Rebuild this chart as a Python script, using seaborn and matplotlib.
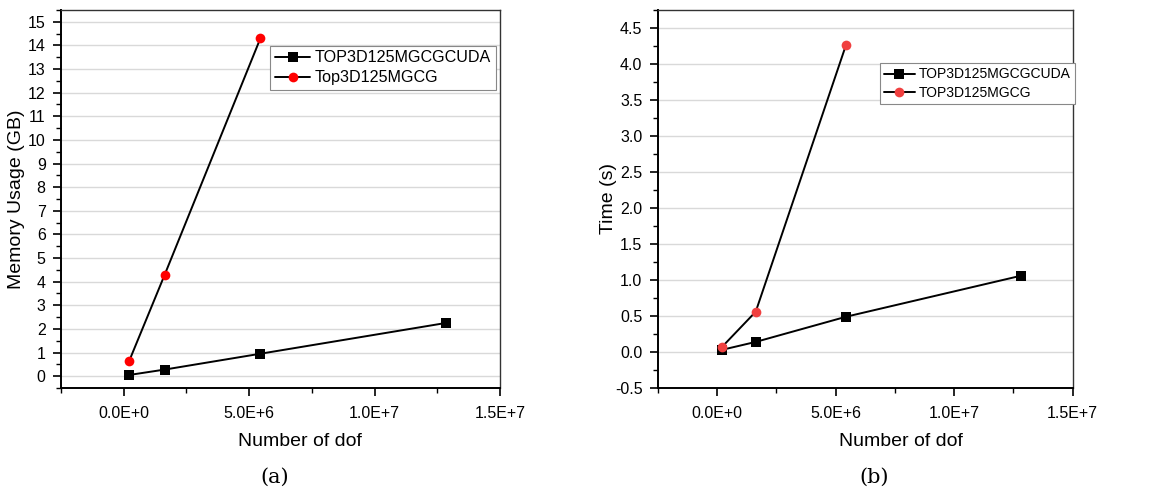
import matplotlib
matplotlib.use("Agg")
import matplotlib.pyplot as plt
import seaborn as sns
import pandas as pd
import numpy as np
from matplotlib.ticker import MultipleLocator, FuncFormatter

# dof for 64x32x32, 128x64x64, 192x96x96, 256x128x128 meshes
dof_cuda = [212355, 1635075, 5447811, 12830391]
dof_cpu = [212355, 1635075, 5447811]

mem_cuda = [0.05, 0.28, 0.95, 2.25]
mem_cpu = [0.63, 4.30, 14.30]

time_cuda = [0.03, 0.14, 0.49, 1.06]
time_cpu = [0.07, 0.56, 4.27]

sns.set_style("white")
plt.rcParams['font.family'] = ['Liberation Sans', 'DejaVu Sans']
plt.rcParams['text.color'] = 'black'
plt.rcParams['axes.labelcolor'] = 'black'
plt.rcParams['xtick.color'] = 'black'
plt.rcParams['ytick.color'] = 'black'


def sci_fmt(v, pos):
    m, e = f"{v:.1E}".split("E")
    return f"{m}E+{int(e)}"


def draw_panel(ax, y_cuda, y_cpu, names, red, ylabel, ylim, ymajor, yminor, fmt,
               legend_anchor, legend_size, xlabel_x, ylabel_x):
    df = pd.DataFrame({
        "dof": dof_cuda + dof_cpu,
        "value": y_cuda + y_cpu,
        "solver": [names[0]] * len(dof_cuda) + [names[1]] * len(dof_cpu),
    })
    sns.lineplot(data=df, x="dof", y="value", hue="solver", style="solver",
                 markers={names[0]: "s", names[1]: "o"}, dashes=False,
                 palette={names[0]: "black", names[1]: "black"},
                 markersize=7, linewidth=1.4, markeredgewidth=0,
                 ax=ax, legend=False, sort=False)
    # recolour the red series markers
    line_cpu = ax.get_lines()[1]
    line_cpu.set_markerfacecolor(red)
    line_cpu.set_markeredgecolor(red)

    ax.set_xlim(-2.5e6, 1.5e7)
    ax.set_ylim(*ylim)
    ax.xaxis.set_major_locator(MultipleLocator(5e6))
    ax.xaxis.set_minor_locator(MultipleLocator(2.5e6))
    ax.xaxis.set_major_formatter(FuncFormatter(sci_fmt))
    ax.yaxis.set_major_locator(MultipleLocator(ymajor))
    ax.yaxis.set_minor_locator(MultipleLocator(yminor))
    ax.yaxis.set_major_formatter(FuncFormatter(lambda v, p: format(v, fmt)))
    ax.yaxis.grid(True, color="#d9d9d9", linewidth=1.0)
    ax.set_axisbelow(True)
    ax.tick_params(which="major", direction="out", length=6, width=1.2,
                   labelsize=11.5, bottom=True, left=True, pad=5)
    ax.tick_params(which="minor", direction="out", length=3.5, width=1.0,
                   bottom=True, left=True)
    ax.tick_params(axis="x", which="major", pad=7)
    for side in ["left", "bottom"]:
        ax.spines[side].set_linewidth(1.4)
        ax.spines[side].set_color("black")
    for side in ["top", "right"]:
        ax.spines[side].set_linewidth(1.0)
        ax.spines[side].set_color("#333333")
    ax.set_xlabel("Number of dof", fontsize=14)
    ax.xaxis.set_label_coords(xlabel_x, -0.118)
    ax.set_ylabel(ylabel, fontsize=14)
    ax.yaxis.set_label_coords(ylabel_x, 0.5)

    handles = ax.get_lines()[:2]
    leg = ax.legend(handles, names, loc="upper left", bbox_to_anchor=legend_anchor,
                    fontsize=legend_size, frameon=True, fancybox=False, framealpha=1,
                    edgecolor="#888888", handlelength=2.2, handletextpad=0.3,
                    borderpad=0.3, labelspacing=0.3, borderaxespad=0)
    leg.get_frame().set_linewidth(0.8)


fig = plt.figure(figsize=(11.69, 4.92), dpi=100)
ax1 = fig.add_axes([0.0522, 0.2114, 0.3755, 0.7683])
ax2 = fig.add_axes([0.5626, 0.2114, 0.3550, 0.7683])

draw_panel(ax1, mem_cuda, mem_cpu, ["TOP3D125MGCGCUDA", "Top3D125MGCG"], "#ff0000",
           "Memory Usage (GB)", (-0.5, 15.5), 1, 0.5, ".0f", (0.476, 0.906), 11.6,
           0.544, -0.082)
draw_panel(ax2, time_cuda, time_cpu, ["TOP3D125MGCGCUDA", "TOP3D125MGCG"], "#f04040",
           "Time (s)", (-0.5, 4.75), 0.5, 0.25, ".1f", (0.5357, 0.859), 10.0,
           0.586, -0.098)

fig.text(275 / 1169, 1 - 477 / 492, "(a)", ha="center", va="center", fontsize=15,
         family=["DejaVu Serif"])
fig.text(874 / 1169, 1 - 477 / 492, "(b)", ha="center", va="center", fontsize=15,
         family=["DejaVu Serif"])

fig.savefig("out.png", dpi=100)
